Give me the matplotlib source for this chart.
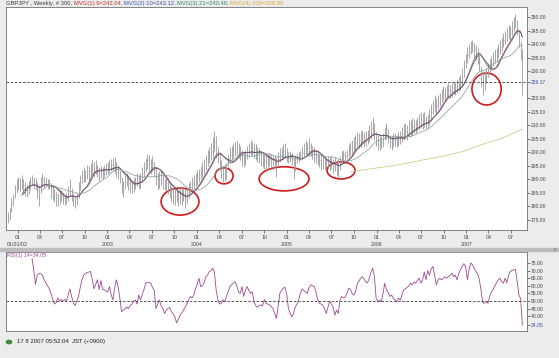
import numpy as np
import pandas as pd
import matplotlib
matplotlib.use('Agg')
import matplotlib.pyplot as plt
import matplotlib.dates as mdates
from matplotlib.patches import Ellipse, Rectangle

# WEEKLY GBPJPY BARS (300 weeks)
start_week = '2001-11-23'

highs = [178, 179.5, 183, 184.5, 188, 190, 191, 190.5, 191.5, 190,
         189, 188, 189.5, 191, 191.8, 191, 190.5, 189, 188, 191,
         192.4, 191, 191, 190, 190, 188.5, 188, 186.5, 185.5, 185,
         186, 186, 185, 184, 185, 187.5, 190, 187, 185, 184,
         185, 189, 191.5, 193.5, 194.6, 193.5, 195.5, 195, 196, 197,
         196.5, 197.3, 195.5, 194.5, 195, 194.5, 195.5, 196, 196.5, 197,
         197.5, 198, 198.3, 196.5, 195.5, 193.5, 191, 189.5, 191.5, 192.5,
         191.5, 190.5, 189.5, 190.5, 191, 192.4, 191.5, 192.5, 194.5, 196.5,
         198, 199.4, 199, 197.5, 198.5, 196.5, 194.6, 192.5, 193, 193,
         191.5, 190.5, 190.5, 189.5, 189, 187.5, 187, 186.5, 187, 186,
         187.5, 186.5, 187.5, 186.5, 187, 188.5, 189.5, 191, 191.5, 192.5,
         193.5, 194, 195, 196.5, 197.5, 199, 201, 202, 203.5, 205.5,
         207.9, 206, 202, 200, 197, 195, 195.5, 196, 199.5, 202,
         202.5, 203.5, 204, 204.6, 203.5, 202.5, 201, 200, 201, 202.5,
         203.5, 204.6, 204, 203.5, 203, 202, 201.5, 200.5, 200, 199.5,
         199, 199.5, 199.8, 199.5, 199, 199, 198.3, 200, 201.5, 202,
         203, 203.5, 201.5, 200, 200.5, 199.8, 198.3, 198.5, 199.5, 200,
         200.5, 202.5, 203.5, 204.6, 204, 205.3, 203.5, 202.5, 202, 201,
         200.5, 199.5, 199, 199, 198, 197.5, 198.5, 198.3, 198.5, 197.5,
         198.3, 197, 197.5, 198.5, 200.5, 201, 200.5, 201, 203, 204,
         204.6, 205.5, 206.5, 207.5, 207, 208, 208.2, 207.5, 208, 208.2,
         210, 211.5, 213, 211, 207.5, 206.5, 206, 206, 207, 209.5,
         211, 208.5, 206.5, 206, 207, 207, 206.5, 207.5, 208, 209.5,
         210.5, 211, 210, 211.5, 212, 212.7, 212.5, 212, 213, 214,
         215, 214.5, 215, 213.5, 214, 216, 218, 219.5, 221, 220,
         221, 222, 223.5, 224.5, 224, 225, 225.5, 225, 225.5, 226,
         226, 227, 228, 228.5, 231, 234, 236.5, 239, 240, 241,
         241.5, 240.5, 239.5, 238.5, 236, 232, 230, 230, 231, 233,
         234.5, 235.5, 237, 238, 238.5, 240, 241.5, 242.5, 244, 245,
         246, 247, 246.5, 248.5, 250, 251, 249, 245, 241, 238]

lows = [174, 175, 178, 180, 183, 185, 186, 185.5, 186.5, 185,
        184, 183.5, 184.5, 186, 187.5, 186.5, 186, 183, 180, 185,
        187.5, 187, 187.5, 186.5, 186.5, 183, 182.5, 181.5, 180, 180,
        181, 182, 181, 180.5, 181, 182, 184, 182, 180, 179.5,
        180.5, 183, 186, 188.5, 189, 189, 190, 189.5, 191, 192,
        191, 192, 191, 189.5, 190.5, 190, 191, 191.5, 192, 192.5,
        193, 193, 192.5, 191, 190, 188.5, 185, 183.5, 186.5, 187.5,
        186, 185, 185, 185.5, 186.5, 187.5, 186.5, 187, 189, 191,
        193, 194, 193, 192, 193, 191, 188, 186, 187, 188,
        186.5, 186, 186, 184.5, 183, 182, 181, 180.5, 181.5, 180,
        181, 180.5, 182, 179.5, 181, 183, 185, 186, 186.5, 187.5,
        188, 189, 190, 191, 192, 193.5, 195, 196, 197, 198,
        200, 198, 196, 193.5, 190.5, 189, 189.5, 190, 194.5, 196,
        197, 198, 198.5, 199, 198, 197, 195, 194.6, 195.5, 197.5,
        198.3, 199, 198.5, 198, 197, 196.5, 196, 195, 194.5, 194,
        193.5, 194, 195, 194.5, 193.5, 195, 191, 195, 196.5, 197,
        197.5, 198, 196.5, 196, 196.5, 195.5, 190, 193, 196, 196.5,
        197, 197, 198, 199, 198.5, 199, 198.5, 197.5, 196.5, 196,
        195.5, 194.5, 193.5, 194, 193.5, 193.5, 194, 193.5, 194, 192.5,
        193, 191.5, 190.5, 193.5, 196, 197, 197, 197.5, 198.3, 199,
        199.5, 200, 201, 202, 201.5, 202, 203, 202, 202.5, 203,
        204, 205, 206, 204.6, 202.5, 201, 201, 201.5, 202, 204.6,
        205, 203.5, 201.5, 201, 202, 202.5, 202, 202.5, 203, 204,
        204.5, 205, 204.5, 205.5, 206, 206.5, 207, 207, 208, 208.5,
        209, 208.5, 209.5, 208.5, 209, 210, 212, 214, 215, 214.5,
        216, 217, 218.5, 219.5, 219, 220, 220.5, 220, 220.5, 221.5,
        221, 222, 222.5, 223, 225, 228, 231, 233, 235, 236.5,
        237, 235, 234, 232.5, 230, 224, 221.2, 223, 225.5, 228,
        229.8, 230.5, 232, 233, 233.5, 235, 236.5, 237.5, 239, 240,
        241, 242, 241.5, 243.5, 245, 246, 243.4, 239, 234, 221.2]

closes = [176, 177, 181, 183, 186, 188, 189, 188, 189, 188,
          186, 185, 187, 189, 190, 189, 188, 186, 183, 188,
          190, 189, 189.5, 188, 188.5, 186, 185, 184, 183, 182.5,
          183.5, 184, 183, 182, 183, 185, 188, 184, 182, 181.5,
          183, 186, 189, 191, 192, 191, 193, 192, 194, 195,
          194, 195, 193, 192, 193, 192.5, 193.5, 194, 194.5, 195,
          195.5, 196, 195, 194, 193, 191, 188, 186, 189, 190,
          188.5, 188, 187, 188, 189, 190, 189, 190, 192, 194,
          195.5, 197, 196, 195, 196, 194, 191, 189, 190, 190.5,
          189, 188, 188.5, 187, 186, 184.5, 184, 183.5, 184, 183,
          184, 183.5, 184.5, 183, 184, 186, 187, 188.5, 189, 190,
          191, 191.5, 192.5, 194, 195, 196.5, 198, 199, 200, 202,
          204, 202, 199, 197, 194, 192, 193, 194, 197, 199,
          200, 201, 201.5, 202, 201, 200, 198, 197.5, 198.5, 200,
          201, 202, 201.5, 201, 200, 199.5, 199, 198, 197.5, 197,
          196.5, 197, 197.5, 197, 196.5, 197, 194, 197.5, 199, 200,
          200.5, 201, 199, 198, 198.5, 197.5, 194, 196, 197.5, 198,
          198.5, 200, 201, 202, 201.5, 202.5, 201, 200, 199, 198.5,
          198, 197, 196, 196.5, 195.5, 195, 196, 195.5, 196, 195,
          195.5, 194, 193.5, 196, 198, 199, 198.5, 199.5, 200.5, 201.5,
          202, 203, 204, 205, 204.5, 205, 206, 205, 205.5, 206,
          207, 209, 210, 208, 205, 204, 203.5, 204, 205, 207,
          208.5, 206, 204, 203.5, 204.5, 205, 204.5, 205, 206, 207,
          207.5, 208, 207.5, 208.5, 209, 209.5, 210, 209.5, 210.5, 211,
          212, 211.5, 212, 211, 211.5, 213, 215, 217, 218, 217.5,
          218.5, 219.5, 221, 222, 221.5, 222.5, 223, 222.5, 223, 224,
          223.5, 224.5, 225, 226, 228, 231, 234, 236, 237.5, 239,
          239.5, 238, 237, 236, 233, 229, 226, 227, 229, 231,
          232, 233, 234.5, 235.5, 236, 237.5, 239, 240, 241.5, 242.5,
          243.5, 244.5, 244, 246, 248, 249, 246, 242, 238, 226.17]

# RSI(14), starts at week 14
rsi14 = [78, 70, 61, 67, 68, 68, 67, 64, 62, 60,
         58, 55, 51, 48, 49, 52, 50, 51, 50, 51,
         50, 54, 58, 53, 48.5, 47, 50, 53, 59, 64,
         67, 68, 68.8, 69, 69.4, 64, 58, 61, 64, 57.5,
         63.5, 57.7, 57.3, 56.5, 56, 59.5, 54, 50.7, 58.4, 63.9,
         59.5, 52, 43, 44, 45, 46, 45, 47, 48, 50,
         50.7, 48, 54, 50.7, 54, 57.3, 61.7, 62.4, 62, 61.7,
         59, 57, 45, 48, 50.7, 47, 45, 41.8, 44, 45,
         45.7, 43, 41.8, 39.6, 35.6, 38, 40.7, 42, 44, 46,
         48, 50.7, 53, 52, 54, 58, 61, 65, 59.5, 60,
         62, 66, 67, 69.4, 70, 71.6, 69, 57.3, 50.7, 48,
         48.5, 50.7, 49.6, 53, 56, 59.5, 60.6, 62, 62.6, 60,
         56, 55, 59.5, 53, 57, 59.5, 57, 55, 56, 49.6,
         47, 45.8, 47, 47.4, 46.8, 51, 48.5, 48, 47.4, 46.4,
         45, 42, 38.5, 46, 55, 57, 58.4, 59, 55, 45,
         42, 39.6, 42, 46, 48, 51, 55, 58, 57, 56,
         55, 59, 60.6, 60, 59.5, 56, 51, 48.5, 48, 47.4,
         45, 41.8, 46, 50, 48, 46, 40.7, 44, 41.8, 50.7,
         53, 52, 52.5, 55, 58.4, 57.8, 55, 53.9, 56, 61,
         63, 65, 66, 64.5, 62.5, 62, 65, 69, 71.6, 66,
         51.8, 49.5, 50.7, 49.6, 55, 61.7, 57.3, 55.5, 53, 53.9,
         51.8, 50.7, 49.6, 51.8, 50.7, 54, 57.3, 58, 59, 60,
         61.7, 60.6, 62.5, 61.7, 63.5, 65, 61.7, 63.9, 69, 64,
         70, 67, 71, 72.7, 67, 60.6, 63.9, 65, 63.9, 65,
         66, 65, 66, 67, 68.3, 66, 67, 63.9, 68, 70.5,
         72.7, 74.5, 72.7, 64, 70.5, 75, 73.8, 71.6, 69.4, 68,
         64, 57, 49, 48.5, 49.6, 48.5, 53, 56, 57.3, 60,
         62, 64, 65, 62.8, 61.7, 65, 62, 67, 69.4, 70,
         70.5, 70.8, 62.8, 54, 51.5, 34.05]

ma_periods = [9, 10, 21, 200]
ma_colors = ['#9a4a78', '#55556a', '#8aa29c', '#d2c680']
last_price = 226.17
last_rsi = 34.05

title_parts = [('GBPJPY , Weekly, # 300, ', '#404040'),
               ('MVG(1) 9=242.04, ', '#c83232'),
               ('MVG(2) 10=243.12, ', '#3a55b0'),
               ('MVG(3) 21=240.48, ', '#2f8a6a'),
               ('MVG(4) 200=208.90', '#d8a838')]

# red circles drawn on the chart: centre week, centre price, width (weeks), height
circles = [(100, 181.8, 22, 10.0),
           (125.6, 191.3, 10.5, 5.9),
           (160.5, 190.2, 29, 8.9),
           (193.6, 193.3, 16.3, 6.3),
           (278.2, 223.4, 17, 11.8)]

plt.rcParams['font.family'] = ['Liberation Sans', 'DejaVu Sans']


def week_to_num(w):
    return mdates.date2num(pd.Timestamp(start_week) + pd.Timedelta(days=7 * w))


def right_axis(ax, ticks, labels, hl_value, size):
    ax.yaxis.tick_right()
    ax.set_yticks(ticks)
    ax.set_yticklabels(labels)
    ax.tick_params(axis='y', direction='out', length=2, width=0.5, pad=0.5,
                   labelsize=size, colors='#444444')
    for t, v in zip(ax.get_yticklabels(), ticks):
        if v == hl_value:
            t.set_color('#3050a8')


def title_line(fig, x, y, parts, size):
    r = fig.canvas.get_renderer()
    for txt, col in parts:
        t = fig.text(x, y, txt, color=col, fontsize=size, va='center', ha='left')
        bb = t.get_window_extent(renderer=r)
        x += bb.width / fig.bbox.width


def main():
    fig = plt.figure(figsize=(5.59, 3.58), dpi=100)
    fig.patch.set_facecolor('#ececec')
    W, H = 559.0, 358.0

    dates = pd.date_range(start_week, periods=len(closes), freq='7D')
    x = mdates.date2num(dates)
    xlim = (week_to_num(-1.16), week_to_num(301.7))

    # separator bar between the panels
    fig.patches.append(Rectangle((0, 1 - 251 / H), 1, 3 / H, transform=fig.transFigure,
                                 color='#bdbdbd', zorder=0))

    # PRICE PANEL
    ax = fig.add_axes([6 / W, 1 - 230 / H, 521 / W, 223 / H])
    ax.set_facecolor('white')
    ax.vlines(x, lows, highs, color='#9a9a9a', lw=0.6)
    ax.hlines(closes, x, x + 2.5, color='#9a9a9a', lw=0.4)

    s = pd.Series(closes)
    for p, c in zip(ma_periods, ma_colors):
        ax.plot(x, s.rolling(p).mean(), color=c, lw=0.55)

    ax.axhline(last_price, color='#404040', lw=0.6, ls=(0, (3, 2)))

    for w, p, ww, hh in circles:
        e = Ellipse((week_to_num(w), p), ww * 7, hh, fill=False, ec='#d01c1c', lw=1.2)
        ax.add_patch(e)

    ax.set_xlim(xlim)
    ax.set_ylim(171.3, 253.7)
    pticks = [175, 180, 185, 190, 195, 200, 205, 210, 215, 220, last_price,
              230, 235, 240, 245, 250]
    right_axis(ax, pticks, ['%.2f' % v for v in pticks], last_price, 3.6)

    qs = pd.date_range('2002-01-01', '2007-07-01', freq='QS')
    ax.set_xticks(mdates.date2num(qs))
    ax.set_xticklabels([d.strftime('%m') for d in qs])
    ax.tick_params(axis='x', direction='out', length=2, width=0.5, pad=1.5,
                   labelsize=3.8, colors='#444444')
    for d in qs:
        if d.month == 1:
            lab = '01/01/02' if d.year == 2002 else str(d.year)
            ax.text(mdates.date2num(d), -0.063, lab, transform=ax.get_xaxis_transform(),
                    ha='center', va='center', fontsize=3.8, color='#444444')
    for sp in ax.spines.values():
        sp.set_color('#707070')
        sp.set_linewidth(0.6)

    # RSI PANEL
    ax2 = fig.add_axes([6 / W, 1 - 331 / H, 521 / W, 79 / H])
    ax2.set_facecolor('white')
    ax2.plot(x[14:], rsi14, color='#9c4a94', lw=0.6)
    ax2.axhline(50, color='#404040', lw=0.6, ls=(0, (3, 2)))
    ax2.set_xlim(xlim)
    ax2.set_ylim(30.3, 82.2)
    rticks = [last_rsi, 40, 45, 50, 55, 60, 65, 70, 75]
    right_axis(ax2, rticks, ['%.2f' % v for v in rticks], last_rsi, 3.6)
    ax2.set_xticks([])
    for sp in ax2.spines.values():
        sp.set_color('#707070')
        sp.set_linewidth(0.6)
    ax2.text(0.002, 0.985, 'RSI(1) 14=34.05', transform=ax2.transAxes, ha='left', va='top',
             fontsize=3.8, color='#9c4a94')

    # title + status bar
    title_line(fig, 6 / W, 1 - 3.5 / H, title_parts, 4.2)
    fig.text(555 / W, 1 - 249.5 / H, 'x', fontsize=3.5, color='#666666', ha='center', va='center')
    fig.patches.append(plt.Circle((9 / W, 1 - 342 / H), 2.6 / W, transform=fig.transFigure,
                                  color='#3a8a3a', zorder=2))
    fig.text(17 / W, 1 - 342 / H, '17 8 2007 05:52:04  JST (+0900)', fontsize=4.3,
             color='#222222', ha='left', va='center')

    fig.savefig('out.png', dpi=100, facecolor=fig.get_facecolor())


if __name__ == '__main__':
    main()
